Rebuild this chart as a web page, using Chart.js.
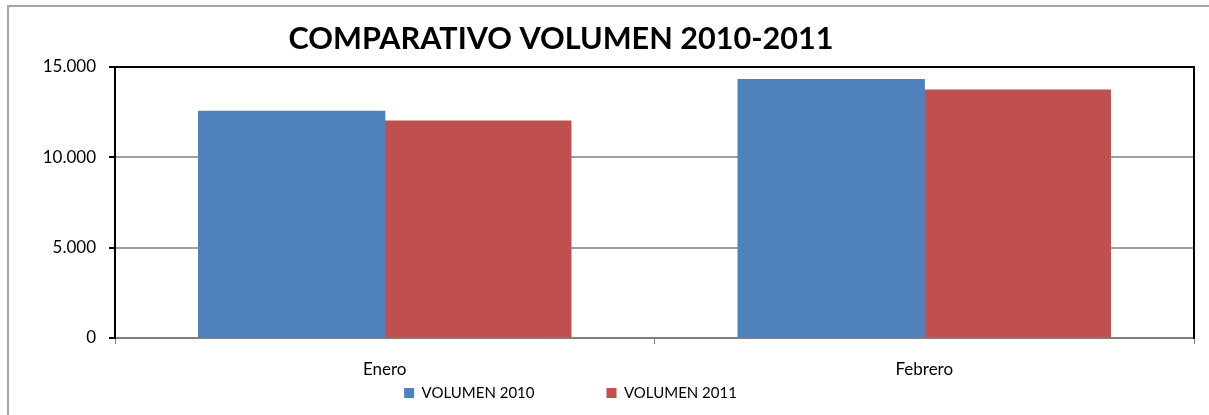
<!DOCTYPE html>
<html>
<head>
<meta charset="utf-8">
<script src="https://cdn.jsdelivr.net/npm/chart.js@4/dist/chart.umd.min.js"></script>
<style>
  html, body { margin: 0; padding: 0; background: #fff; }
  #wrap { position: relative; width: 1209px; height: 415px; overflow: hidden; }
  #frame { position: absolute; left: 7px; top: 5px; width: 1400px; height: 600px;
           border-top: 2px solid #a6a6a6; border-left: 2px solid #a6a6a6; }
  canvas { position: absolute; left: 0; top: 0; }
</style>
</head>
<body>
<div id="wrap">
  <div id="frame"></div>
  <canvas id="c" width="1209" height="415"></canvas>
</div>
<script>
const categories = ['Enero', 'Febrero'];
const seriesNames = ['VOLUMEN 2010', 'VOLUMEN 2011'];
const volumen2010 = [12550, 14300];
const volumen2011 = [12000, 13720];
const yTicks = [0, 5000, 10000, 15000];
const chartTitle = 'COMPARATIVO VOLUMEN 2010-2011';

const FONT = 'Lato, "Open Sans", sans-serif';
const yMax = yTicks[yTicks.length - 1];

function fmt(v) {
  return String(v).replace(/\B(?=(\d{3})+(?!\d))/g, '.');
}

const shiftPlugin = {
  id: 'shiftBoxes',
  afterLayout(chart) {
    const t = chart.titleBlock;
    if (t) { t.left = 0; t.right = 1122; }
    const lg = chart.legend;
    if (lg) {
      const pad = lg.options.labels.padding;
      const fs = lg.options.labels.font.size;
      lg.left = 0; lg.right = 1141;
      lg.top = 393 - pad - fs / 2;
    }
  }
};

new Chart(document.getElementById('c'), {
  type: 'bar',
  data: {
    labels: categories,
    datasets: [
      { label: seriesNames[0], data: volumen2010, backgroundColor: '#4f81bd', borderWidth: 0, inflateAmount: 0.6 },
      { label: seriesNames[1], data: volumen2011, backgroundColor: '#c0504d', borderWidth: 0, inflateAmount: 0.6 }
    ]
  },
  options: {
    responsive: false,
    devicePixelRatio: 1,
    animation: false,
    categoryPercentage: 0.69,
    barPercentage: 1.0,
    layout: { padding: { left: 0, right: 15, top: 0, bottom: 5 } },
    plugins: {
      title: {
        display: true,
        text: chartTitle,
        color: '#000',
        font: { family: FONT, size: 30.6, weight: 'bold', lineHeight: 1.2 },
        padding: { top: 21, bottom: 67 - 21 - 30.6 * 1.2 }
      },
      legend: {
        position: 'bottom',
        maxHeight: 30,
        labels: {
          color: '#000',
          font: { family: FONT, size: 15 },
          boxWidth: 10,
          boxHeight: 10,
          padding: 72
        }
      },
      tooltip: { enabled: false }
    },
    scales: {
      x: {
        grid: { drawOnChartArea: false, tickLength: 6, color: '#808080', lineWidth: 1 },
        border: { display: true, color: '#808080', width: 2 },
        ticks: { color: '#000', font: { family: FONT, size: 17 }, padding: 15 },
        afterFit(s) { s.height = 42; }
      },
      y: {
        min: 0,
        max: yMax,
        afterBuildTicks(s) { s.ticks = yTicks.map(v => ({ value: v })); },
        grid: {
          tickLength: 6,
          lineWidth: 2,
          color: ctx => (ctx.tick && ctx.tick.value === yMax) ? '#000' : '#a0a0a0',
          tickColor: '#000'
        },
        border: { display: true, color: '#000', width: 2 },
        ticks: { color: '#000', font: { family: FONT, size: 17 }, padding: 13, callback: v => fmt(v) },
        afterFit(s) { s.width = 115; }
      },
      y2: {
        type: 'linear',
        position: 'right',
        grid: { display: false },
        ticks: { display: false },
        border: { display: true, color: '#000', width: 2 },
        afterFit(s) { s.width = 0; }
      }
    }
  },
  plugins: [shiftPlugin]
});
</script>
</body>
</html>
